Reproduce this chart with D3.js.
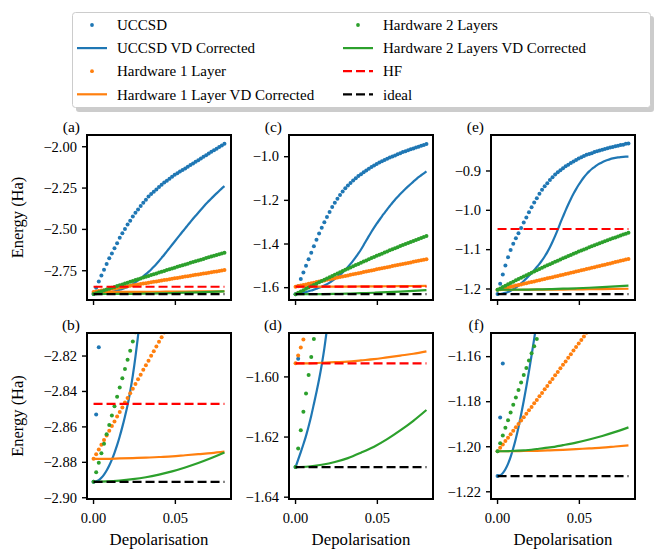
<!DOCTYPE html>
<html>
<head>
<meta charset="utf-8">
<title>VD corrected energies</title>
<script src="https://d3js.org/d3.v7.min.js"></script>
<style>
  body { margin: 0; background: #fff; }
  svg { display: block; }
</style>
</head>
<body>
<script>
// depolarisation values of the sampled points
const depol = [0, 0.0016, 0.0032, 0.0048, 0.0064, 0.008, 0.0096, 0.0112, 0.0128, 0.0144,
  0.016, 0.0176, 0.0192, 0.0208, 0.0224, 0.024, 0.0256, 0.0272, 0.0288, 0.0304,
  0.032, 0.0336, 0.0352, 0.0368, 0.0384, 0.04, 0.0416, 0.0432, 0.0448, 0.0464,
  0.048, 0.0496, 0.0512, 0.0528, 0.0544, 0.056, 0.0576, 0.0592, 0.0608, 0.0624,
  0.064, 0.0656, 0.0672, 0.0688, 0.0704, 0.072, 0.0736, 0.0752, 0.0768, 0.0784, 0.08];
// coarser grid for the flat VD corrected hardware curves
const depolCoarse = [0, 0.008, 0.016, 0.024, 0.032, 0.04, 0.048, 0.056, 0.064, 0.072, 0.08];

// ---- molecule of panels (a)/(b)
const uccsdA = [-2.891, -2.853, -2.815, -2.779, -2.744, -2.709, -2.675, -2.645, -2.614, -2.583,
  -2.551, -2.524, -2.497, -2.471, -2.447, -2.422, -2.400, -2.379, -2.358, -2.339,
  -2.320, -2.301, -2.286, -2.272, -2.258, -2.243, -2.230, -2.217, -2.205, -2.193,
  -2.181, -2.170, -2.160, -2.150, -2.140, -2.131, -2.121, -2.111, -2.101, -2.091,
  -2.081, -2.071, -2.061, -2.051, -2.041, -2.031, -2.021, -2.012, -2.002, -1.992, -1.982];
const uccsdVdA = [-2.8910, -2.8907, -2.8900, -2.8887, -2.8869, -2.8846, -2.8818, -2.8785, -2.8746, -2.8703,
  -2.8654, -2.8600, -2.8541, -2.8477, -2.8400, -2.8310, -2.8205, -2.8085, -2.7960, -2.7840,
  -2.7710, -2.7570, -2.7420, -2.7260, -2.7090, -2.6910, -2.6720, -2.6530, -2.6330, -2.6130,
  -2.5930, -2.5730, -2.5530, -2.5330, -2.5130, -2.4940, -2.4740, -2.4550, -2.4360, -2.4170,
  -2.3990, -2.3810, -2.3630, -2.3450, -2.3290, -2.3130, -2.2970, -2.2820, -2.2670, -2.2520, -2.2380];
const hw1A = [-2.8780, -2.8754, -2.8727, -2.8701, -2.8674, -2.8648, -2.8622, -2.8595, -2.8569, -2.8542,
  -2.8516, -2.8490, -2.8463, -2.8437, -2.8410, -2.8384, -2.8358, -2.8331, -2.8305, -2.8278,
  -2.8252, -2.8226, -2.8199, -2.8173, -2.8146, -2.8120, -2.8094, -2.8067, -2.8041, -2.8014,
  -2.7988, -2.7962, -2.7935, -2.7909, -2.7882, -2.7856, -2.7830, -2.7803, -2.7777, -2.7750,
  -2.7724, -2.7698, -2.7671, -2.7645, -2.7618, -2.7592, -2.7566, -2.7539, -2.7513, -2.7486, -2.7460];
const hw1VdA = [-2.8780, -2.8780, -2.8778, -2.8776, -2.8774, -2.8770, -2.8766, -2.8760, -2.8754, -2.8748, -2.8740];
const hw2A = [-2.8910, -2.8856, -2.8802, -2.8749, -2.8695, -2.8642, -2.8589, -2.8536, -2.8483, -2.8430,
  -2.8378, -2.8326, -2.8273, -2.8221, -2.8170, -2.8118, -2.8066, -2.8015, -2.7964, -2.7913,
  -2.7862, -2.7811, -2.7760, -2.7710, -2.7660, -2.7610, -2.7560, -2.7510, -2.7461, -2.7411,
  -2.7362, -2.7313, -2.7264, -2.7215, -2.7166, -2.7118, -2.7070, -2.7022, -2.6974, -2.6926,
  -2.6878, -2.6831, -2.6783, -2.6736, -2.6689, -2.6642, -2.6596, -2.6549, -2.6503, -2.6457, -2.6410];
const hw2VdA = [-2.8910, -2.8908, -2.8903, -2.8895, -2.8884, -2.8869, -2.8851, -2.8829, -2.8804, -2.8776, -2.8745];
const hfA = -2.847, idealA = -2.891;

// ---- molecule of panels (c)/(d)
const uccsdC = [-1.630, -1.594, -1.560, -1.530, -1.500, -1.470, -1.440, -1.410, -1.381, -1.352,
  -1.325, -1.300, -1.276, -1.253, -1.231, -1.211, -1.193, -1.176, -1.160, -1.145,
  -1.132, -1.120, -1.109, -1.099, -1.089, -1.080, -1.071, -1.063, -1.055, -1.047,
  -1.040, -1.033, -1.027, -1.021, -1.015, -1.009, -1.004, -0.999, -0.994, -0.989,
  -0.984, -0.979, -0.975, -0.970, -0.966, -0.962, -0.958, -0.954, -0.950, -0.946, -0.942];
const uccsdVdC = [-1.6300, -1.6275, -1.6250, -1.6224, -1.6196, -1.6164, -1.6129, -1.6090, -1.6050, -1.6008,
  -1.5960, -1.5905, -1.5840, -1.5770, -1.5690, -1.5600, -1.5510, -1.5410, -1.5300, -1.5180,
  -1.5050, -1.4910, -1.4760, -1.4600, -1.4430, -1.4250, -1.4050, -1.3840, -1.3640, -1.3440,
  -1.3250, -1.3070, -1.2900, -1.2730, -1.2570, -1.2410, -1.2260, -1.2110, -1.1970, -1.1840,
  -1.1710, -1.1590, -1.1470, -1.1360, -1.1250, -1.1140, -1.1040, -1.0940, -1.0850, -1.0760, -1.0670];
const hw1C = [-1.5955, -1.5929, -1.5902, -1.5876, -1.5850, -1.5824, -1.5797, -1.5771, -1.5745, -1.5719,
  -1.5694, -1.5668, -1.5642, -1.5616, -1.5591, -1.5565, -1.5539, -1.5514, -1.5488, -1.5463,
  -1.5438, -1.5412, -1.5387, -1.5362, -1.5336, -1.5311, -1.5286, -1.5261, -1.5236, -1.5211,
  -1.5186, -1.5161, -1.5136, -1.5111, -1.5087, -1.5062, -1.5037, -1.5013, -1.4988, -1.4964,
  -1.4939, -1.4915, -1.4891, -1.4866, -1.4842, -1.4818, -1.4794, -1.4770, -1.4746, -1.4722, -1.4700];
const hw1VdC = [-1.5955, -1.5955, -1.5953, -1.5951, -1.5949, -1.5945, -1.5941, -1.5935, -1.5929, -1.5923, -1.5915];
const hw2C = [-1.6300, -1.6238, -1.6177, -1.6116, -1.6055, -1.5994, -1.5934, -1.5874, -1.5815, -1.5756,
  -1.5697, -1.5639, -1.5581, -1.5523, -1.5466, -1.5409, -1.5352, -1.5296, -1.5240, -1.5184,
  -1.5129, -1.5074, -1.5019, -1.4965, -1.4911, -1.4858, -1.4804, -1.4751, -1.4699, -1.4646,
  -1.4595, -1.4543, -1.4492, -1.4441, -1.4391, -1.4341, -1.4291, -1.4241, -1.4192, -1.4144,
  -1.4095, -1.4047, -1.4000, -1.3952, -1.3905, -1.3858, -1.3812, -1.3766, -1.3720, -1.3675, -1.3630];
const hw2VdC = [-1.6300, -1.6298, -1.6292, -1.6283, -1.6270, -1.6252, -1.6232, -1.6207, -1.6178, -1.6146, -1.6110];
const hfC = -1.5955, idealC = -1.630;

// ---- molecule of panels (e)/(f)
const uccsdE = [-1.213, -1.187, -1.163, -1.140, -1.119, -1.101, -1.085, -1.071, -1.058, -1.045,
  -1.031, -1.018, -1.005, -0.992, -0.980, -0.969, -0.958, -0.948, -0.939, -0.931,
  -0.923, -0.916, -0.909, -0.903, -0.898, -0.893, -0.888, -0.884, -0.880, -0.876,
  -0.872, -0.868, -0.865, -0.862, -0.859, -0.857, -0.855, -0.852, -0.850, -0.848,
  -0.846, -0.844, -0.842, -0.840, -0.839, -0.837, -0.836, -0.834, -0.833, -0.831, -0.830];
const uccsdVdE = [-1.2130, -1.2127, -1.2117, -1.2100, -1.2076, -1.2045, -1.2007, -1.1963, -1.1913, -1.1857,
  -1.1797, -1.1733, -1.1665, -1.1594, -1.1520, -1.1443, -1.1362, -1.1275, -1.1175, -1.1063,
  -1.0940, -1.0800, -1.0650, -1.0490, -1.0320, -1.0160, -1.0000, -0.9850, -0.9710, -0.9580,
  -0.9460, -0.9350, -0.9250, -0.9160, -0.9080, -0.9010, -0.8950, -0.8900, -0.8850, -0.8810,
  -0.8775, -0.8745, -0.8720, -0.8698, -0.8680, -0.8666, -0.8655, -0.8647, -0.8641, -0.8637, -0.8635];
const hw1E = [-1.2020, -1.2005, -1.1990, -1.1975, -1.1960, -1.1945, -1.1929, -1.1914, -1.1899, -1.1884,
  -1.1869, -1.1853, -1.1838, -1.1823, -1.1807, -1.1792, -1.1776, -1.1761, -1.1745, -1.1730,
  -1.1714, -1.1699, -1.1683, -1.1668, -1.1652, -1.1636, -1.1621, -1.1605, -1.1589, -1.1573,
  -1.1557, -1.1542, -1.1526, -1.1510, -1.1494, -1.1478, -1.1462, -1.1446, -1.1430, -1.1414,
  -1.1398, -1.1382, -1.1365, -1.1349, -1.1333, -1.1317, -1.1301, -1.1284, -1.1268, -1.1252, -1.1235];
const hw1VdE = [-1.2020, -1.2020, -1.2019, -1.2018, -1.2016, -1.2014, -1.2011, -1.2007, -1.2004, -1.1999, -1.1994];
const hw2E = [-1.2020, -1.1985, -1.1950, -1.1916, -1.1882, -1.1848, -1.1814, -1.1781, -1.1748, -1.1715,
  -1.1682, -1.1650, -1.1617, -1.1585, -1.1554, -1.1522, -1.1491, -1.1460, -1.1429, -1.1398,
  -1.1368, -1.1338, -1.1308, -1.1279, -1.1249, -1.1220, -1.1191, -1.1163, -1.1134, -1.1106,
  -1.1078, -1.1050, -1.1023, -1.0996, -1.0969, -1.0942, -1.0916, -1.0890, -1.0864, -1.0838,
  -1.0812, -1.0787, -1.0762, -1.0737, -1.0712, -1.0688, -1.0664, -1.0640, -1.0616, -1.0593, -1.0570];
const hw2VdE = [-1.2020, -1.2019, -1.2016, -1.2010, -1.2003, -1.1993, -1.1982, -1.1968, -1.1952, -1.1934, -1.1914];
const hfE = -1.0475, idealE = -1.213;

const legendLabels = ["UCCSD", "UCCSD VD Corrected", "Hardware 1 Layer", "Hardware 1 Layer VD Corrected",
  "Hardware 2 Layers", "Hardware 2 Layers VD Corrected", "HF", "ideal"];
const xTicks = [0, 0.05];

const blue = "#1f77b4", orange = "#ff7f0e", green = "#2ca02c";
const serif = "'Liberation Serif'";

const mols = [
  {uccsd: uccsdA, uccsdVd: uccsdVdA, hw1: hw1A, hw1Vd: hw1VdA, hw2: hw2A, hw2Vd: hw2VdA, hf: hfA, ideal: idealA},
  {uccsd: uccsdC, uccsdVd: uccsdVdC, hw1: hw1C, hw1Vd: hw1VdC, hw2: hw2C, hw2Vd: hw2VdC, hf: hfC, ideal: idealC},
  {uccsd: uccsdE, uccsdVd: uccsdVdE, hw1: hw1E, hw1Vd: hw1VdE, hw2: hw2E, hw2Vd: hw2VdE, hf: hfE, ideal: idealE}
];

const panels = [
  {label: "(a)", col: 0, row: 0, domain: [-2.927, -1.929], ticks: [-2.75, -2.5, -2.25, -2.0], fmt: ".2f"},
  {label: "(b)", col: 0, row: 1, domain: [-2.9007, -2.807], ticks: [-2.90, -2.88, -2.86, -2.84, -2.82], fmt: ".2f"},
  {label: "(c)", col: 1, row: 0, domain: [-1.6565, -0.9006], ticks: [-1.6, -1.4, -1.2, -1.0], fmt: ".1f"},
  {label: "(d)", col: 1, row: 1, domain: [-1.6406, -1.5854], ticks: [-1.64, -1.62, -1.60], fmt: ".2f"},
  {label: "(e)", col: 2, row: 0, domain: [-1.228, -0.8085], ticks: [-1.2, -1.1, -1.0, -0.9], fmt: ".1f"},
  {label: "(f)", col: 2, row: 1, domain: [-1.2232, -1.1495], ticks: [-1.22, -1.20, -1.18, -1.16], fmt: ".2f"}
];

const colLeft = [87, 289, 491], panelW = 144;
const rowTop = [135, 333], rowH = [165, 166];

const svg = d3.select("body").append("svg")
  .attr("width", 654)
  .attr("height", 550);

function addText(parent, size) {
  return parent.append("text")
    .style("font-family", serif)
    .attr("font-size", size);
}

panels.forEach(function(p, k) {
  const mol = mols[p.col];
  const left = colLeft[p.col], top = rowTop[p.row], h = rowH[p.row];
  const x = d3.scaleLinear().domain([-0.004, 0.084]).range([left, left + panelW]);
  const y = d3.scaleLinear().domain(p.domain).range([top + h, top]);

  svg.append("clipPath").attr("id", "clip" + k)
    .append("rect").attr("x", left).attr("y", top).attr("width", panelW).attr("height", h);

  const g = svg.append("g").attr("clip-path", "url(#clip" + k + ")");

  const line = d3.line().x(d => x(d[0])).y(d => y(d[1])).curve(d3.curveMonotoneX);

  function dots(vals, colour) {
    g.append("g").selectAll("circle")
      .data(d3.zip(depol, vals))
      .join("circle")
      .attr("cx", d => x(d[0]))
      .attr("cy", d => y(d[1]))
      .attr("r", 2)
      .attr("fill", colour);
  }
  function curve(xs, vals, colour) {
    g.append("path")
      .attr("d", line(d3.zip(xs, vals)))
      .attr("fill", "none")
      .attr("stroke", colour)
      .attr("stroke-width", 2.2);
  }
  function hline(v, colour) {
    g.append("line")
      .attr("x1", x(depol[0])).attr("x2", x(depol[depol.length - 1]))
      .attr("y1", y(v)).attr("y2", y(v))
      .attr("stroke", colour)
      .attr("stroke-width", 2.2)
      .attr("stroke-dasharray", "9,4");
  }

  dots(mol.uccsd, blue);
  curve(depol, mol.uccsdVd, blue);
  dots(mol.hw1, orange);
  curve(depolCoarse, mol.hw1Vd, orange);
  dots(mol.hw2, green);
  curve(depolCoarse, mol.hw2Vd, green);
  hline(mol.hf, "#ff0000");
  hline(mol.ideal, "#000000");

  // frame
  svg.append("rect")
    .attr("x", left).attr("y", top).attr("width", panelW).attr("height", h)
    .attr("fill", "none").attr("stroke", "#000").attr("stroke-width", 2);

  // y axis
  const fmt = d3.format(p.fmt);
  const yt = svg.append("g");
  p.ticks.forEach(function(t) {
    yt.append("line").attr("x1", left - 5).attr("x2", left)
      .attr("y1", y(t)).attr("y2", y(t))
      .attr("stroke", "#000").attr("stroke-width", 1.4);
    addText(yt, 14.5).attr("x", left - 10).attr("y", y(t))
      .attr("dy", "0.33em").attr("text-anchor", "end")
      .text(fmt(t));
  });

  // x axis
  xTicks.forEach(function(t) {
    svg.append("line").attr("x1", x(t)).attr("x2", x(t))
      .attr("y1", top + h).attr("y2", top + h + 5)
      .attr("stroke", "#000").attr("stroke-width", 1.4);
    if (p.row === 1) {
      addText(svg, 14.5).attr("x", x(t)).attr("y", top + h + 24)
        .attr("text-anchor", "middle")
        .text(d3.format(".2f")(t));
    }
  });
  if (p.row === 1) {
    addText(svg, 16.8).attr("x", left + panelW / 2).attr("y", 545)
      .attr("text-anchor", "middle")
      .text("Depolarisation");
  }
  if (p.col === 0) {
    addText(svg, 16.5)
      .attr("transform", "translate(23," + (top + h / 2) + ") rotate(-90)")
      .attr("text-anchor", "middle")
      .text("Energy (Ha)");
  }

  addText(svg, 15.5).attr("x", left - 7).attr("y", top - 3)
    .attr("text-anchor", "end")
    .text(p.label);
});

// legend
const legend = svg.append("g");
legend.append("rect")
  .attr("x", 76).attr("y", 16).attr("width", 578).attr("height", 96)
  .attr("rx", 3).attr("fill", "#999").attr("opacity", 0.5);
legend.append("rect")
  .attr("x", 72.5).attr("y", 12.5).attr("width", 578).attr("height", 95)
  .attr("rx", 3).attr("fill", "#fff").attr("stroke", "#ccc").attr("stroke-width", 1);

const styles = [
  {c: blue, kind: "dot"}, {c: blue, kind: "line"},
  {c: orange, kind: "dot"}, {c: orange, kind: "line"},
  {c: green, kind: "dot"}, {c: green, kind: "line"},
  {c: "#ff0000", kind: "dash"}, {c: "#000000", kind: "dash"}
];
legendLabels.forEach(function(name, i) {
  const col = Math.floor(i / 4), r = i % 4;
  const x0 = col === 0 ? 77 : 343;
  const cy = 25 + r * 23.1;
  const s = styles[i];
  if (s.kind === "dot") {
    legend.append("circle").attr("cx", x0 + 15).attr("cy", cy).attr("r", 1.9).attr("fill", s.c);
  } else {
    legend.append("line").attr("x1", x0).attr("x2", x0 + 30)
      .attr("y1", cy).attr("y2", cy)
      .attr("stroke", s.c).attr("stroke-width", 2.2)
      .attr("stroke-dasharray", s.kind === "dash" ? "9,4" : null);
  }
  addText(legend, 15).attr("x", x0 + 40).attr("y", cy)
    .attr("dy", "0.35em").text(name);
});
</script>
</body>
</html>
